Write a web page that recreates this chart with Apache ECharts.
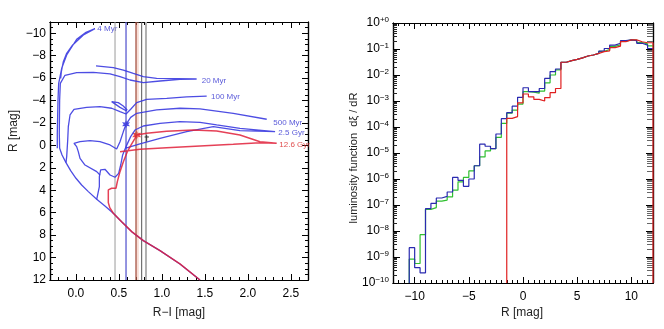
<!DOCTYPE html>
<html><head><meta charset="utf-8">
<script src="https://cdn.jsdelivr.net/npm/echarts@6/dist/echarts.min.js"></script>
<style>html,body{margin:0;padding:0;background:#fff}#c{width:664px;height:329px}</style>
</head><body><div id="c"></div>
<script>
// ================= LEFT PANEL: isochrones, x = R-I [mag], y = R [mag] =================
const iso4Myr = [[-0.215,0.26],[-0.215,-1.08],[-0.207,-4.05],[-0.199,-5.53],[-0.164,-6.87],[-0.106,-8.06],[0.010,-9.46],[0.119,-10.08],[0.223,-10.41],[0.088,-9.84],[-0.036,-8.95],[-0.106,-8.21],[-0.145,-7.46],[-0.168,-6.57],[-0.176,-5.98]];
const iso20Myr = [[1.444,12.0],[1.211,10.57],[0.979,9.38],[0.785,8.49],[0.650,7.69],[0.533,6.80],[0.436,6.05],[0.339,5.40],[0.243,4.81],[0.146,4.12],[0.068,3.53],[0.002,2.93],[-0.060,2.25],[-0.114,1.54],[-0.160,0.85],[-0.188,0.26],[-0.192,-1.08],[-0.188,-4.05],[-0.180,-5.53],[-0.126,-6.25],[0.010,-6.48],[0.204,-6.51],[0.398,-6.37],[0.514,-6.13],[0.630,-5.83],[0.785,-5.59],[0.979,-5.74],[1.211,-5.89],[1.405,-5.92],[1.174,-5.95],[0.940,-5.98],[0.785,-6.13],[0.669,-6.42],[0.553,-6.72],[0.436,-6.93],[0.235,-7.08]];
const iso100Myr = [[-0.114,1.54],[-0.106,1.0],[-0.094,-0.48],[-0.087,-1.67],[-0.067,-2.71],[-0.021,-3.22],[0.126,-3.39],[0.281,-3.45],[0.417,-3.31],[0.514,-3.01],[0.584,-2.80],[0.638,-3.22],[0.708,-3.81],[0.824,-4.11],[1.057,-4.20],[1.289,-4.32],[1.522,-4.40]];
const iso100MyrLoop = [[0.599,-3.13],[0.552,-3.51],[0.494,-3.81],[0.417,-3.90],[0.420,-3.75],[0.514,-3.39],[0.591,-3.07]];
const iso500Myr = [[0.281,2.64],[0.243,2.34],[0.107,1.75],[0.049,1.15],[0.029,0.56],[0.010,0.11],[-0.021,-0.19],[0.002,-0.36],[0.049,-0.33],[0.165,-0.42],[0.281,-0.33],[0.398,-0.04],[0.475,0.32],[0.514,-0.33],[0.553,-1.23],[0.584,-1.88],[0.638,-2.50],[0.708,-2.86],[0.940,-3.16],[1.211,-3.31],[1.444,-3.25],[1.831,-2.86],[2.220,-2.33]];
const iso2p5Gyr = [[0.243,4.81],[0.274,3.68],[0.274,2.79],[0.289,2.19],[0.339,2.13],[0.398,2.64],[0.456,2.84],[0.498,2.49],[0.522,1.75],[0.545,0.85],[0.584,0.11],[0.638,-0.78],[0.688,-1.37],[0.785,-1.73],[0.979,-1.97],[1.211,-2.12],[1.444,-2.06],[1.638,-1.82],[1.909,-1.52],[2.317,-1.23],[1.909,-1.31],[1.599,-1.67],[1.289,-1.23],[0.979,-0.63],[0.746,-0.13],[0.572,0.26]];
const iso12p6Gyr = [[1.444,12.0],[1.211,10.57],[0.979,9.38],[0.785,8.49],[0.650,7.69],[0.533,6.80],[0.436,6.05],[0.395,5.55],[0.378,5.10],[0.378,4.57],[0.378,3.97],[0.417,3.82],[0.467,3.82],[0.483,3.23],[0.514,2.34],[0.553,1.45],[0.599,0.56],[0.650,-0.13],[0.688,-0.63],[0.708,-0.93],[0.824,-1.08],[1.057,-1.26],[1.367,-1.37],[1.638,-1.29],[1.909,-0.93],[2.142,-0.33],[2.336,-0.19],[2.142,-0.24],[1.831,-0.10],[1.444,0.05],[1.057,0.20],[0.746,0.35],[0.514,0.56]];
const isoLabels = ['4 Myr','20 Myr','100 Myr','500 Myr','2.5 Gyr','12.6 Gyr'];
const isoLabelAt = [[0.25,-10.35],[1.464,-5.77],[1.572,-4.34],[2.297,-1.97],[2.355,-1.08],[2.366,-0.04]];
const isoLabelColor = ['#3030d0','#3030d0','#3030d0','#3030d0','#3030d0','#d82020'];
const blueStar = [[0.584,-1.88]];
const redStar = [[0.708,-0.93]];
const errMark = [[0.824,-0.95],[0.824,-0.35]];
const errCap = [[0.80,-0.75],[0.85,-0.75]];
const colourCuts = [0.456, 0.584, 0.716, 0.700, 0.766, 0.816];
const colourCutColor = ['#9a9a9a','#5a5ad0','rgba(235,160,140,0.35)','#a04a3a','#555555','#b0b0b0'];
const colourCutWidth = [1, 1.3, 3, 1.2, 1, 2];
const leftXTicks = [0, 0.5, 1.0, 1.5, 2.0, 2.5];
const leftYTicks = [-10, -8, -6, -4, -2, 0, 2, 4, 6, 8, 10, 12];

// ================= RIGHT PANEL: luminosity function (log10 values per 0.5 mag bin) =================
const binEdges = [-10.5,-10,-9.5,-9,-8.5,-8,-7.5,-7,-6.5,-6,-5.5,-5,-4.5,-4,-3.5,-3,-2.5,-2,-1.5,-1,-0.5,0,0.5,1,1.5,2,2.5,3,3.5,4,4.5,5,5.5,6,6.5,7,7.5,8,8.5,9,9.5,10,10.5,11,11.5,12];
const logLFBlue = [-8.64,-9.41,-9.61,-7.14,-6.94,-6.73,-6.67,-6.50,-5.94,-6.05,-6.28,-6.00,-5.49,-4.66,-4.74,-4.83,-4.27,-3.68,-3.45,-3.20,-2.86,-2.49,-2.64,-2.64,-2.52,-2.13,-1.87,-1.77,-1.51,-1.45,-1.40,-1.34,-1.27,-1.23,-1.17,-1.08,-0.98,-0.85,-0.78,-0.68,-0.65,-0.68,-0.78,-0.85,-0.98];
const logLFGreen = [-9.08,-9.25,-8.14,-7.17,-7.10,-6.85,-6.81,-6.69,-6.43,-6.11,-5.94,-5.69,-5.49,-5.15,-4.92,-4.83,-4.40,-3.86,-3.47,-3.35,-3.12,-2.64,-2.66,-2.70,-2.62,-2.30,-2.00,-1.80,-1.51,-1.45,-1.40,-1.34,-1.27,-1.23,-1.17,-1.09,-1.02,-0.90,-0.84,-0.70,-0.65,-0.66,-0.75,-0.80,-0.88];
const logLFRed = [null,null,null,null,null,null,null,null,null,null,null,null,null,null,null,null,null,null,-3.67,-3.60,-3.07,-2.73,-2.84,-2.94,-3.00,-2.87,-2.68,-2.52,-1.51,-1.45,-1.40,-1.34,-1.27,-1.23,-1.17,-1.10,-1.07,-0.95,-0.89,-0.72,-0.65,-0.65,-0.72,-0.76,-0.76];
const rightXTicks = [-10, -5, 0, 5, 10];
const rightYDecades = [-10,-9,-8,-7,-6,-5,-4,-3,-2,-1,0];
const LF_FLOOR = 1e-10;

// ---------- helpers ----------
const FONT = '"Liberation Sans", Arial, sans-serif';
function range(a, b, step) { const out = []; for (let v = a; v <= b + 1e-9; v += step) out.push(+v.toFixed(4)); return out; }
function minus(v) { return String(v).replace('-', '\u2212'); }
function stepData(logs, dropAtEnd) {
  let i0 = logs.findIndex(v => v !== null);
  let i1 = logs.length - 1;
  const pts = [[binEdges[i0], LF_FLOOR]];
  for (let i = i0; i <= i1; i++) pts.push([binEdges[i], Math.pow(10, logs[i])]);
  pts.push([binEdges[i1 + 1], Math.pow(10, logs[i1])]);
  if (dropAtEnd) pts.push([binEdges[i1 + 1], LF_FLOOR]);
  return pts;
}
const leftXMinor = range(-0.3, 2.7, 0.1);
const leftYMinor = range(-11, 12, 0.5);
const rightXMinor = range(-12, 12, 0.5);
const rightYMinor = [];
for (let e = -10; e < 0; e++) for (let k = 2; k <= 9; k++) rightYMinor.push(k * Math.pow(10, e));
const rightYMajor = rightYDecades.map(e => Math.pow(10, e));

const axLine = { show: true, onZero: false, lineStyle: { color: '#000', width: 1.2 } };
function xAx(grid, pos, min, max, ticks, len, extra) {
  return Object.assign({
    gridIndex: grid, type: 'value', position: pos, min: min, max: max,
    axisLine: axLine, splitLine: { show: false },
    axisTick: { show: true, inside: true, length: len, customValues: ticks, lineStyle: { color: '#000', width: 1 } },
    axisLabel: { show: false }
  }, extra || {});
}
function yAx(grid, pos, type, min, max, ticks, len, extra, color) {
  return Object.assign({
    gridIndex: grid, type: type, position: pos, min: min, max: max, inverse: type === 'value',
    axisLine: axLine, splitLine: { show: false }, logBase: 10,
    axisTick: { show: true, inside: true, length: len, customValues: ticks, lineStyle: { color: color || '#000', width: 1 } },
    axisLabel: { show: false }
  }, extra || {});
}

const xAxes = [
  xAx(0, 'bottom', -0.3, 2.7, leftXTicks, 6, { axisLabel: { show: true, customValues: leftXTicks, formatter: v => v.toFixed(1), fontSize: 12, color: '#000', fontFamily: FONT, margin: 8 } }),
  xAx(0, 'bottom', -0.3, 2.7, leftXMinor, 3),
  xAx(0, 'top', -0.3, 2.7, leftXTicks, 6),
  xAx(0, 'top', -0.3, 2.7, leftXMinor, 3),
  xAx(1, 'bottom', -12, 12, rightXTicks, 6, { axisLabel: { show: true, customValues: rightXTicks, formatter: v => minus(v), fontSize: 12, color: '#000', fontFamily: FONT, margin: 8 } }),
  xAx(1, 'bottom', -12, 12, rightXMinor, 3),
  xAx(1, 'top', -12, 12, rightXTicks, 6),
  xAx(1, 'top', -12, 12, rightXMinor, 3)
];
const yAxes = [
  yAx(0, 'left', 'value', -11, 12, leftYTicks, 6, { axisLabel: { show: true, customValues: leftYTicks, formatter: v => minus(v), fontSize: 12, color: '#000', fontFamily: FONT, margin: 4 } }),
  yAx(0, 'left', 'value', -11, 12, leftYMinor, 3),
  yAx(0, 'right', 'value', -11, 12, leftYTicks, 6),
  yAx(0, 'right', 'value', -11, 12, leftYMinor, 3),
  yAx(1, 'left', 'log', 1e-10, 1, rightYMajor, 7, { axisLabel: { show: true, customValues: rightYMajor, margin: 4,
      formatter: v => { const e = Math.round(Math.log10(v)); return '{b|10}{s|' + (e === 0 ? '+0' : '\u2212' + (-e)) + '}'; },
      rich: { b: { fontSize: 12, fontFamily: FONT, color: '#000' }, s: { fontSize: 8, fontFamily: FONT, color: '#000', verticalAlign: 'top', padding: [0, 0, 6, 0] } } } }),
  yAx(1, 'left', 'log', 1e-10, 1, rightYMinor, 4, {}, '#222'),
  yAx(1, 'right', 'log', 1e-10, 1, rightYMajor, 7),
  yAx(1, 'right', 'log', 1e-10, 1, rightYMinor, 6, {}, '#666')
];

const series = [];
colourCuts.forEach((x, i) => series.push({
  type: 'line', xAxisIndex: 0, yAxisIndex: 0, data: [[x, -11], [x, 12]], showSymbol: false, silent: true,
  lineStyle: { color: colourCutColor[i], width: colourCutWidth[i] }
}));
const blueIso = { color: '#3a3ae0', width: 1.3, opacity: 0.9 };
[iso4Myr, iso20Myr, iso100Myr, iso100MyrLoop, iso500Myr, iso2p5Gyr].forEach(d => series.push({
  type: 'line', xAxisIndex: 0, yAxisIndex: 0, data: d, showSymbol: false, smooth: false, lineStyle: blueIso
}));
series.push({ type: 'line', xAxisIndex: 0, yAxisIndex: 0, data: iso12p6Gyr, showSymbol: false, lineStyle: { color: '#e0203a', width: 1.5, opacity: 0.85 } });
series.push({ type: 'line', xAxisIndex: 0, yAxisIndex: 0, data: errMark, showSymbol: false, lineStyle: { color: '#333', width: 1 } });
series.push({ type: 'line', xAxisIndex: 0, yAxisIndex: 0, data: errCap, showSymbol: false, lineStyle: { color: '#333', width: 1 } });
const STAR = 'path://M0,-10L2.5,-4.3L8.7,-5L5,0L8.7,5L2.5,4.3L0,10L-2.5,4.3L-8.7,5L-5,0L-8.7,-5L-2.5,-4.3Z';
series.push({ type: 'scatter', xAxisIndex: 0, yAxisIndex: 0, data: blueStar, symbol: STAR, symbolSize: 8, itemStyle: { color: '#2020e0' } });
series.push({ type: 'scatter', xAxisIndex: 0, yAxisIndex: 0, data: redStar, symbol: STAR, symbolSize: 9, itemStyle: { color: '#ee2020' } });
series.push({ type: 'scatter', xAxisIndex: 0, yAxisIndex: 0, symbolSize: 0,
  data: isoLabels.map((t, i) => ({ value: isoLabelAt[i], name: t,
    label: { show: true, position: 'right', distance: 0, formatter: t, color: isoLabelColor[i], fontSize: 8, fontFamily: FONT } })) });

series.push({ type: 'line', xAxisIndex: 4, yAxisIndex: 4, step: 'end', data: stepData(logLFGreen, false), showSymbol: false, lineStyle: { color: '#30c030', width: 1.2 } });
series.push({ type: 'line', xAxisIndex: 4, yAxisIndex: 4, step: 'end', data: stepData(logLFBlue, false), showSymbol: false, lineStyle: { color: '#2a2ab0', width: 1.2 } });
series.push({ type: 'line', xAxisIndex: 4, yAxisIndex: 4, step: 'end', data: stepData(logLFRed, true), showSymbol: false, lineStyle: { color: '#e02020', width: 1.2 } });

const chart = echarts.init(document.getElementById('c'), null, { renderer: 'canvas' });
chart.setOption({
  animation: false,
  backgroundColor: '#fff',
  textStyle: { fontFamily: FONT },
  grid: [
    { left: 50, top: 22, width: 258, height: 258, containLabel: false, outerBoundsMode: 'none' },
    { left: 393, top: 23, width: 260, height: 260, containLabel: false, outerBoundsMode: 'none' }
  ],
  xAxis: xAxes,
  yAxis: yAxes,
  series: series,
  graphic: [
    { type: 'text', x: 179, y: 313, style: { text: 'R\u2212I [mag]', x: 0, y: 0, align: 'center', verticalAlign: 'middle', font: '12px ' + FONT, fill: '#222' } },
    { type: 'text', x: 14, y: 131, rotation: Math.PI / 2, style: { text: 'R [mag]', x: 0, y: 0, align: 'center', verticalAlign: 'middle', font: '12px ' + FONT, fill: '#222' } },
    { type: 'text', x: 522, y: 313, style: { text: 'R [mag]', x: 0, y: 0, align: 'center', verticalAlign: 'middle', font: '12px ' + FONT, fill: '#222' } },
    { type: 'text', x: 354, y: 158, rotation: Math.PI / 2, style: { text: 'luminosity function  d\u03BE / dR', x: 0, y: 0, align: 'center', verticalAlign: 'middle', font: '11px ' + FONT, fill: '#222' } }
  ]
});
</script></body></html>
